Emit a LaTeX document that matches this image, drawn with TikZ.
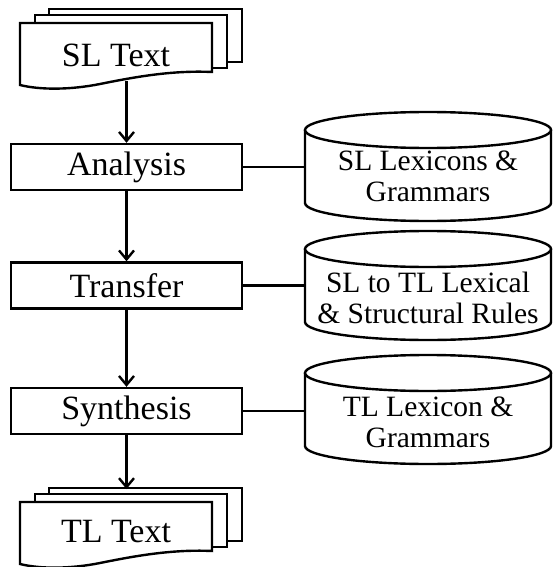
\documentclass[tikz,border=0pt]{standalone}
\usepackage{fontspec}
\setmainfont{Liberation Serif}
\usetikzlibrary{arrows.meta}
\begin{document}
\begin{tikzpicture}[x=1pt, y=-1pt,
  every path/.style={line width=2.4pt, line join=miter},
  procbox/.style={draw, line width=2.4pt, fill=white, minimum width=231pt,
    minimum height=46pt, inner sep=0pt, font=\fontsize{34}{36}\selectfont},
  doctext/.style={inner sep=0pt, font=\fontsize{34}{36}\selectfont},
  cyltext/.style={inner sep=0pt, align=center,
    font=\fontsize{29.5}{31}\selectfont},
  flow/.style={draw, line width=2.4pt, -{Straight Barb[length=9pt, width=15pt, line width=2.4pt]}},
  link/.style={draw, line width=2.4pt},
  docstack/.pic={
    % back and middle sheets, then the front sheet with its wavy edge
    \filldraw[fill=white] (29,-14) rectangle (222,39);
    \filldraw[fill=white] (15,-8) rectangle (207,45);
    \filldraw[fill=white] (0,0) -- (192,0) -- (192,49)
      .. controls (150,47) and (110,55) .. (80,61)
      .. controls (50,67) and (20,67) .. (0,62) -- cycle;
  }]
\useasboundingbox (0,0) rectangle (553,567);

% source and target documents
\pic at (20,23) {docstack};
\pic at (20,502) {docstack};
\node[doctext] (slt) at (116,55) {SL Text};
\node[doctext] (tlt) at (116,532) {TL Text};
\coordinate (sltbot) at (126.5,81);
\coordinate (tlttop) at (126.5,489);

% processing stages
\node[procbox] (ana) at (126.5,167) {Analysis};
\node[procbox] (tra) at (126.5,285.5) {Transfer};
\node[procbox] (syn) at (126.5,411) {Synthesis};

% knowledge bases as cylinders: top ellipse centre, bottom arc centre
\foreach \yt/\yb in {130/203, 249/322, 373/446}{
  \filldraw[fill=white] (428,\yt) ellipse [x radius=123, y radius=18];
  \draw (305,\yt) -- (305,\yb) arc[start angle=180, end angle=0,
    x radius=123, y radius=18] -- (551,\yt);
}
\node[cyltext] (lexa) at (428,176.5) {SL Lexicons \&\\Grammars};
\node[cyltext] (lext) at (428,297.5) {SL to TL Lexical\\\& Structural Rules};
\node[cyltext] (lexs) at (428,422) {TL Lexicon \&\\Grammars};
\coordinate (lexaL) at (305,167);
\coordinate (lextL) at (305,285.5);
\coordinate (lexsL) at (305,411);

% main flow
\draw[flow] (sltbot) -- (ana.north);
\draw[flow] (ana.south) -- (tra.north);
\draw[flow] (tra.south) -- (syn.north);
\draw[flow] (syn.south) -- (tlttop);

% links to the knowledge bases
\draw[link] (ana.east) -- (lexaL);
\draw[link] (tra.east) -- (lextL);
\draw[link] (syn.east) -- (lexsL);
\end{tikzpicture}
\end{document}
